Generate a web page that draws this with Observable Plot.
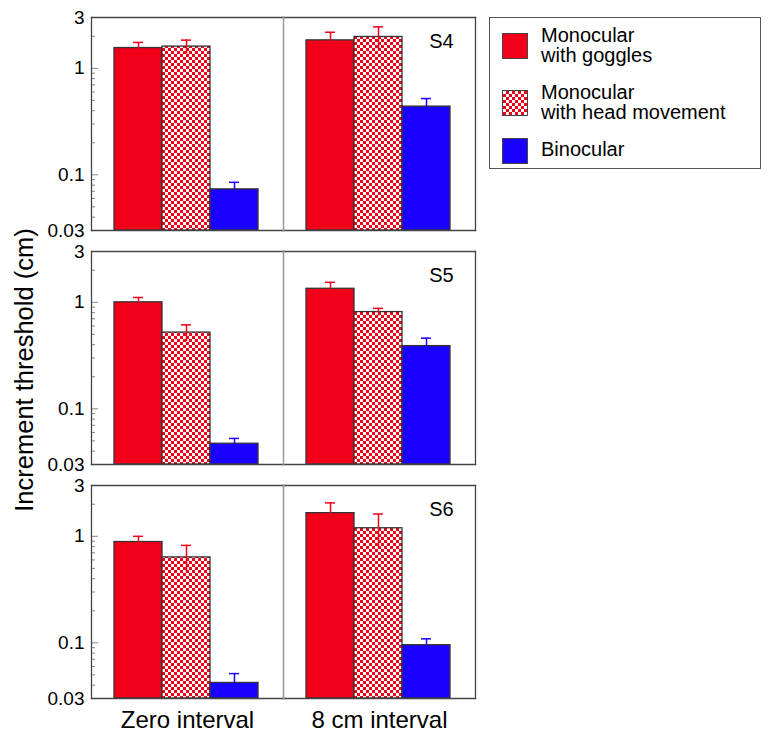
<!DOCTYPE html>
<html><head><meta charset="utf-8">
<script src="https://cdn.jsdelivr.net/npm/d3@7"></script>
<script src="https://cdn.jsdelivr.net/npm/@observablehq/plot@0.6"></script>
<style>
body{margin:0;background:#fff;font-family:"Liberation Sans",Arial,Helvetica,sans-serif;color:#000;}
#wrap{position:relative;width:773px;height:738px;overflow:hidden;}
#chart{position:absolute;left:0;top:0;}
#ylabel{position:absolute;left:24px;top:370px;transform:translate(-50%,-50%) rotate(-90deg);white-space:nowrap;font-size:25.5px;}
#legend{position:absolute;left:489px;top:17px;width:272px;height:152px;border:1.5px solid #555;box-sizing:border-box;background:#fff;}
.sw{position:absolute;left:12px;width:26px;height:26px;box-sizing:border-box;border:1.2px solid #444;}
.lt{position:absolute;left:51px;font-size:20px;line-height:20px;white-space:nowrap;}
</style></head>
<body><div id="wrap"><div id="chart"></div><div id="ylabel"></div><div id="legend"></div></div>
<script>
// ---- data ----
const subjects = ["S4", "S5", "S6"];
const intervals = ["Zero interval", "8 cm interval"];
const conditions = ["Monocular with goggles", "Monocular with head movement", "Binocular"];
const legendLines = [["Monocular", "with goggles"], ["Monocular", "with head movement"], ["Binocular"]];
const yLabel = "Increment threshold (cm)";
const yTicks = [0.03, 0.1, 1, 3];
const yMinorTicks = [0.04, 0.05, 0.06, 0.07, 0.08, 0.09, 0.2, 0.3, 0.4, 0.5, 0.6, 0.7, 0.8, 0.9, 2];

const s4ZeroMean = [1.55, 1.60, 0.073];
const s4ZeroErr  = [0.20, 0.24, 0.012];
const s4EightMean = [1.83, 1.97, 0.437];
const s4EightErr  = [0.35, 0.48, 0.083];

const s5ZeroMean = [1.00, 0.52, 0.047];
const s5ZeroErr  = [0.11, 0.094, 0.0057];
const s5EightMean = [1.34, 0.81, 0.388];
const s5EightErr  = [0.20, 0.067, 0.073];

const s6ZeroMean = [0.884, 0.634, 0.042];
const s6ZeroErr  = [0.116, 0.188, 0.0094];
const s6EightMean = [1.65, 1.19, 0.095];
const s6EightErr  = [0.41, 0.43, 0.014];

// ---- styles ----
const RED = "#f2001a", BLUE = "#1a00ff";
const fills = [RED, "url(#checker)", BLUE];
const errColors = [RED, RED, BLUE];
const FONT = '"Liberation Sans", Arial, Helvetica, sans-serif';

// ---- table ----
const table = [
  [s4ZeroMean, s4ZeroErr, s4EightMean, s4EightErr],
  [s5ZeroMean, s5ZeroErr, s5EightMean, s5EightErr],
  [s6ZeroMean, s6ZeroErr, s6EightMean, s6EightErr]
];
const rows = [];
subjects.forEach((s, si) => {
  intervals.forEach((iv, ii) => {
    const means = table[si][ii * 2], errs = table[si][ii * 2 + 1];
    conditions.forEach((c, ci) => {
      rows.push({subject: s, interval: iv, condition: c, ci, value: means[ci], lo: means[ci] - errs[ci], hi: means[ci] + errs[ci]});
    });
  });
});
const sLabels = subjects.map(s => ({subject: s, interval: intervals[1]}));

const barMarks = conditions.map((c, ci) => Plot.barY(rows.filter(r => r.ci === ci), {
  fx: "interval", fy: "subject", x: "condition", y1: () => yTicks[0], y2: "value",
  fill: fills[ci], stroke: "#333", strokeWidth: 1.3
}));
const errMarks = conditions.flatMap((c, ci) => {
  const d = rows.filter(r => r.ci === ci);
  return [
    Plot.ruleX(d, {fx: "interval", fy: "subject", x: "condition", y1: "lo", y2: "hi", stroke: errColors[ci], strokeWidth: 1.5}),
    Plot.tickY(d, {fx: "interval", fy: "subject", x: "condition", y: "hi", stroke: errColors[ci], strokeWidth: 1.5, insetLeft: 19, insetRight: 19})
  ];
});

const plot = Plot.plot({
  width: 480, height: 738,
  marginLeft: 91, marginRight: 5, marginTop: 17, marginBottom: 40,
  style: {fontFamily: FONT, fontSize: "19px", color: "#000", background: "transparent"},
  x: {domain: conditions, paddingInner: 0, paddingOuter: 0.5, align: 0.47, axis: null},
  y: {type: "log", domain: [yTicks[0], yTicks[yTicks.length - 1]]},
  fx: {domain: intervals, paddingInner: 0, paddingOuter: 0},
  fy: {domain: subjects, paddingInner: 0.09, paddingOuter: 0, axis: null},
  marks: [
    ...barMarks,
    ...errMarks,
    Plot.axisY(yMinorTicks, {anchor: "left", tickSize: -4, fill: "none", stroke: "#888", label: null}),
    Plot.axisY(yTicks, {anchor: "left", tickSize: -7, fill: "none", stroke: "#888", label: null}),
    Plot.axisY(yTicks, {anchor: "left", tickSize: 0, tickPadding: 7, tickFormat: d => String(d), fontSize: 19, label: null}),
    Plot.axisFx({anchor: "bottom", tickSize: 0, tickPadding: 12, fontSize: 24, label: null}),
    Plot.frame({anchor: "top", stroke: "#444", strokeWidth: 1.3}),
    Plot.frame({anchor: "bottom", stroke: "#444", strokeWidth: 1.3}),
    Plot.frame({anchor: "left", fx: intervals[0], stroke: "#444", strokeWidth: 1.3}),
    Plot.frame({anchor: "right", fx: intervals[0], stroke: "#999", strokeWidth: 1.5}),
    Plot.frame({anchor: "right", fx: intervals[1], stroke: "#444", strokeWidth: 1.3}),
    Plot.text(sLabels, {fx: "interval", fy: "subject", text: "subject", frameAnchor: "top-right", dx: -34, dy: 24, textAnchor: "middle", lineAnchor: "middle", fontSize: 20, fill: "#000"})
  ]
});

// checker pattern
const svg = d3.select(plot.tagName.toLowerCase() === "svg" ? plot : plot.querySelector("svg"));
const defs = svg.insert("defs", ":first-child");
const pat = defs.append("pattern").attr("id", "checker").attr("patternUnits", "userSpaceOnUse").attr("width", 6).attr("height", 6);
pat.append("rect").attr("width", 6).attr("height", 6).attr("fill", "#fff");
pat.append("rect").attr("width", 3).attr("height", 3).attr("fill", RED);
pat.append("rect").attr("x", 3).attr("y", 3).attr("width", 3).attr("height", 3).attr("fill", RED);

document.getElementById("chart").appendChild(plot);
document.getElementById("ylabel").textContent = yLabel;

// legend
const legend = document.getElementById("legend");
const swTops = [15, 72, 120];
const txtTops = [7, 64, 121];
const swBg = [RED, `repeating-conic-gradient(${RED} 0 25%, #fff 0 50%) 0 0/6px 6px`, BLUE];
conditions.forEach((c, i) => {
  const sw = document.createElement("div");
  sw.className = "sw";
  sw.style.top = swTops[i] + "px";
  sw.style.background = swBg[i];
  legend.appendChild(sw);
  const t = document.createElement("div");
  t.className = "lt";
  t.style.top = txtTops[i] + "px";
  t.innerHTML = legendLines[i].join("<br>");
  legend.appendChild(t);
});
</script>
</body></html>
